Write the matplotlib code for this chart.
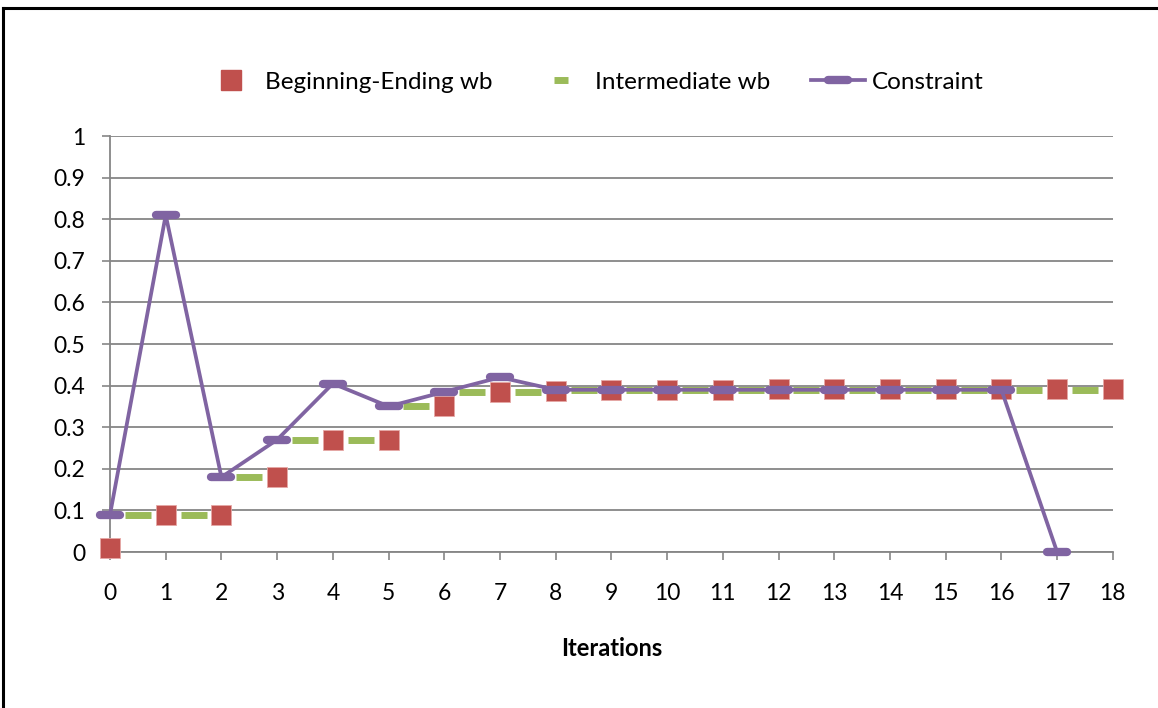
import numpy as np
import matplotlib
matplotlib.use("Agg")
import matplotlib.pyplot as plt
from matplotlib.markers import MarkerStyle
from matplotlib.lines import Line2D

# data
iters = list(range(19))
begin_end = [0.01, 0.09, 0.09, 0.18, 0.27, 0.27, 0.35, 0.385, 0.388, 0.39,
             0.39, 0.39, 0.392, 0.392, 0.392, 0.392, 0.392, 0.393, 0.393]
inter_x = [i + 0.5 for i in range(18)]
intermediate = [0.09, 0.09, 0.18, 0.27, 0.27, 0.35, 0.385, 0.385, 0.39, 0.39,
                0.39, 0.39, 0.39, 0.39, 0.39, 0.39, 0.39, 0.39]
constr_x = list(range(18))
constraint = [0.09, 0.81, 0.18, 0.27, 0.405, 0.35, 0.385, 0.42, 0.39, 0.39,
              0.39, 0.39, 0.39, 0.39, 0.39, 0.39, 0.39, 0.0]
yticks = [0, 0.1, 0.2, 0.3, 0.4, 0.5, 0.6, 0.7, 0.8, 0.9, 1]
ylabels = ["0", "0.1", "0.2", "0.3", "0.4", "0.5", "0.6", "0.7", "0.8", "0.9", "1"]

red = "#C0504D"
green = "#9BBB59"
purple = "#8064A2"
grey = "#868686"

plt.rcParams['font.family'] = ['Lato', 'DejaVu Sans']

fig = plt.figure(figsize=(11.58, 7.08), dpi=100)
ax = fig.add_axes([0.095, 0.2203, 0.866, 0.5876])

dash = MarkerStyle('_', capstyle='round')
ax.plot(inter_x, intermediate, ls='none', marker='_', ms=18.5, mew=5,
        color=green, clip_on=False, zorder=3)
ax.plot(iters, begin_end, ls='none', marker='s', ms=14.5, color=red,
        mec='#E6A8A6', mew=0.6, clip_on=False, zorder=4)
ax.plot(constr_x, constraint, color=purple, lw=2.7, marker=dash, ms=14,
        mew=6, mec=purple, clip_on=False, zorder=5)

ax.set_xlim(0, 18)
ax.set_ylim(0, 1)
ax.set_xticks(iters)
ax.set_yticks(yticks)
ax.set_yticklabels(ylabels)
ax.tick_params(axis='both', direction='out', length=6, width=1.2, color=grey,
               labelsize=16.5, labelcolor='black')
ax.tick_params(axis='x', pad=16)
ax.tick_params(axis='y', pad=12)
ax.grid(axis='y', color=grey, lw=1.3)
ax.set_axisbelow(True)
for s in ['top', 'right']:
    ax.spines[s].set_visible(False)
ax.spines['left'].set_color(grey)
ax.spines['bottom'].set_color(grey)
ax.spines['left'].set_linewidth(1.3)
ax.spines['bottom'].set_linewidth(1.3)
ax.set_xlabel("Iterations", fontsize=17, fontweight='bold', labelpad=24)

handles = [
    Line2D([], [], ls='none', marker='s', ms=14.5, color=red),
    Line2D([], [], ls='none', marker='_', ms=10, mew=5, color=green),
    Line2D([], [], color=purple, lw=2.7, marker=dash, ms=14, mew=6),
]
fig.legend(handles, ["Beginning-Ending wb", "Intermediate wb", "Constraint"],
           loc='center', bbox_to_anchor=(0.513, 0.884), ncol=3, frameon=False,
           fontsize=17.5, handlelength=2.2, columnspacing=1.7, handletextpad=0.3)

# chart border (top and left edges visible)
fig.add_artist(Line2D([0.003, 1.0], [0.988, 0.988], color='black', lw=2.2,
                      transform=fig.transFigure))
fig.add_artist(Line2D([0.003, 0.003], [0.0, 0.988], color='black', lw=2.2,
                      transform=fig.transFigure))

fig.savefig("out.png", dpi=100)
